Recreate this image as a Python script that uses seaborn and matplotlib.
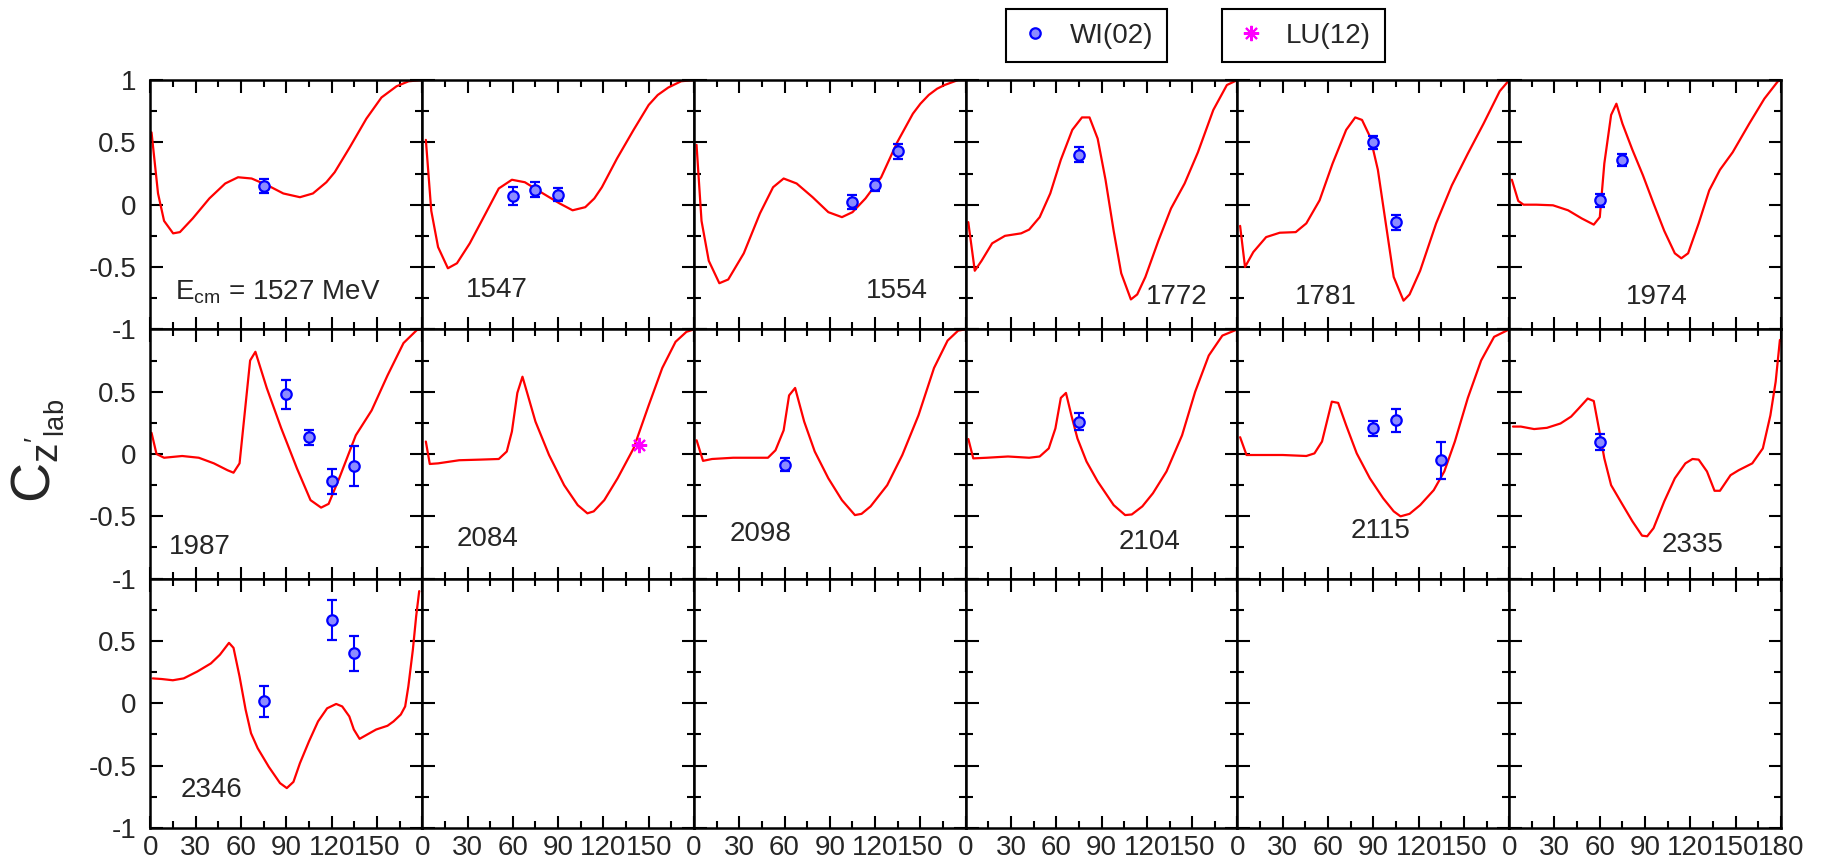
import matplotlib
matplotlib.use("Agg")
import matplotlib.pyplot as plt
from matplotlib.lines import Line2D
from matplotlib.ticker import FixedLocator, FixedFormatter
import seaborn as sns
import pandas as pd

# beam energies (MeV), one panel each
energies = ["1527", "1547", "1554", "1772", "1781", "1974",
            "1987", "2084", "2098", "2104", "2115", "2335", "2346"]

# model curves: (theta_cm [deg], C_z'lab)
curve_1527 = [(0.7, 0.58), (5, 0.09), (9, -0.13), (15, -0.23), (19.5, -0.22), (28, -0.11),
              (39, 0.05), (49.5, 0.17), (58, 0.22), (67, 0.21), (77.6, 0.155), (88, 0.09),
              (99, 0.06), (107.6, 0.09), (116.5, 0.18), (122, 0.26), (132, 0.46), (143, 0.69),
              (153, 0.86), (163, 0.95), (171, 0.99), (180, 1.0)]
curve_1547 = [(2.4, 0.52), (6, -0.05), (10.5, -0.34), (17, -0.51), (23, -0.47), (31.5, -0.31),
              (42, -0.07), (50.7, 0.13), (59.4, 0.20), (68, 0.18), (80, 0.09), (91, 0.01),
              (99.6, -0.045), (108, -0.02), (114, 0.05), (119, 0.14), (129, 0.37), (140, 0.6),
              (150, 0.8), (156, 0.88), (163, 0.94), (171.5, 0.99), (180, 1.0)]
curve_1554 = [(1.7, 0.48), (5, -0.13), (9.8, -0.45), (16.8, -0.63), (22.7, -0.6), (33, -0.39),
              (43.7, -0.07), (52.4, 0.14), (59.4, 0.21), (68, 0.17), (78.6, 0.06), (89, -0.06),
              (98, -0.10), (105, -0.06), (113.6, 0.05), (124, 0.22), (134.6, 0.50),
              (145, 0.73), (150, 0.81), (155.5, 0.88), (161, 0.93), (166, 0.96), (175, 1.0),
              (180, 1.0)]
curve_1772 = [(1.7, -0.14), (6, -0.53), (10.5, -0.45), (17.5, -0.31), (26, -0.25), (36.7, -0.23),
              (42, -0.2), (49, -0.1), (56, 0.09), (63, 0.36), (70.6, 0.6), (77, 0.7), (82, 0.7),
              (87.4, 0.53), (92.6, 0.2), (98, -0.21), (103, -0.55), (109.4, -0.76),
              (113.6, -0.72), (119, -0.58), (127.6, -0.29), (136, -0.03), (145, 0.17),
              (153.8, 0.42), (164, 0.76), (173, 0.96), (180, 1.0)]
curve_1781 = [(1.75, -0.17), (5, -0.5), (10.5, -0.38), (19, -0.26), (28, -0.225), (38.6, -0.22),
              (45.6, -0.15), (54.4, 0.035), (63, 0.33), (72, 0.6), (78, 0.70), (82.5, 0.68),
              (88, 0.54), (93, 0.28), (98, -0.13), (103.5, -0.58), (110, -0.77), (114, -0.72),
              (121, -0.53), (131.6, -0.15), (142, 0.155), (152.6, 0.41), (163, 0.65),
              (173.7, 0.91), (180, 1.0)]
curve_1974 = [(1.75, 0.2), (6, 0.03), (9.5, 0.0), (18, 0.0), (29, -0.005), (39, -0.045),
              (48, -0.11), (56, -0.16), (60, -0.1), (63, 0.33), (67.5, 0.72), (71, 0.81),
              (75, 0.65), (81.6, 0.44), (88.6, 0.235), (95.6, 0.01), (102.7, -0.21),
              (109.7, -0.39), (114, -0.43), (118.5, -0.39), (125.5, -0.15), (132.5, 0.115),
              (139.6, 0.28), (148, 0.42), (159, 0.65), (169, 0.85), (178, 0.99), (180, 1.0)]
curve_1987 = [(0.7, 0.17), (4, 0.0), (9, -0.03), (21, -0.016), (32, -0.03), (42, -0.075),
              (51, -0.13), (55, -0.15), (59, -0.075), (66, 0.75), (69.5, 0.82), (77, 0.53),
              (86.5, 0.21), (97, -0.115), (106, -0.37), (113, -0.43), (118, -0.40),
              (125, -0.195), (136, 0.15), (146.5, 0.35), (157, 0.63), (167.6, 0.89),
              (176.5, 0.995), (180, 1.0)]
curve_2084 = [(2.4, 0.1), (5, -0.08), (10.5, -0.075), (24.5, -0.05), (38.5, -0.045),
              (50.7, -0.04), (56, 0.02), (59.4, 0.18), (63, 0.49), (66.4, 0.62), (70, 0.47),
              (75, 0.26), (84, -0.008), (94, -0.25), (103, -0.41), (109.4, -0.476),
              (113.6, -0.46), (120.6, -0.37), (129.4, -0.195), (140, 0.045), (150, 0.39),
              (159, 0.69), (167.8, 0.9), (175, 0.98), (180, 1.0)]
curve_2098 = [(1.75, 0.11), (6, -0.055), (12, -0.04), (26, -0.03), (40, -0.03), (49, -0.03),
              (54, 0.03), (59.4, 0.19), (63, 0.47), (67, 0.53), (73, 0.26), (80, 0.02),
              (89, -0.195), (98, -0.37), (106.6, -0.49), (111, -0.48), (117, -0.42),
              (128, -0.25), (138, -0.008), (148.7, 0.31), (159, 0.69), (168, 0.91),
              (175, 0.99), (180, 1.0)]
curve_2104 = [(1.75, 0.12), (5, -0.035), (14, -0.03), (28, -0.02), (42, -0.03), (49, -0.02),
              (55, 0.045), (59.4, 0.205), (63, 0.45), (66.4, 0.49), (70, 0.31), (74, 0.125),
              (80, -0.06), (87.4, -0.22), (98, -0.41), (105.6, -0.49), (110, -0.485),
              (117, -0.42), (124, -0.315), (133, -0.14), (143.3, 0.15), (152, 0.5),
              (161, 0.79), (170, 0.95), (180, 1.0)]
curve_2115 = [(1.75, 0.135), (6, -0.008), (16, -0.008), (30, -0.008), (45.6, -0.016),
              (51, 0.005), (56, 0.1), (62.5, 0.42), (66.7, 0.41), (72, 0.23), (79, 0.005),
              (87.7, -0.195), (96.5, -0.355), (103.5, -0.46), (108, -0.50), (114, -0.48),
              (121, -0.41), (130, -0.29), (137, -0.14), (144, 0.1), (152.6, 0.45),
              (161.4, 0.75), (170, 0.94), (180, 1.0)]
curve_2335 = [(2.5, 0.22), (7.7, 0.22), (16.5, 0.2), (25, 0.21), (34, 0.245), (41, 0.3),
              (46, 0.365), (52, 0.445), (56, 0.425), (59.4, 0.205), (63, -0.035),
              (67.5, -0.25), (74.5, -0.395), (81.6, -0.54), (88, -0.655), (91.4, -0.66),
              (95.6, -0.595), (102.7, -0.38), (109.7, -0.195), (116.7, -0.075),
              (121.4, -0.04), (125.5, -0.045), (131, -0.14), (136, -0.295), (139.6, -0.295),
              (146.6, -0.17), (152, -0.13), (161, -0.075), (168, 0.045), (173, 0.31),
              (176.5, 0.58), (179.3, 0.915)]
curve_2346 = [(1.5, 0.2), (7.4, 0.195), (14.8, 0.185), (22, 0.2), (31, 0.255), (40, 0.32),
              (46, 0.39), (52, 0.485), (55, 0.445), (59, 0.215), (63, -0.05), (66.6, -0.24),
              (71, -0.36), (78.4, -0.51), (85.8, -0.64), (90.3, -0.68), (94.7, -0.63),
              (99, -0.48), (105, -0.305), (111, -0.145), (117, -0.04), (123, -0.005),
              (127, -0.025), (131.7, -0.105), (134.7, -0.21), (138.5, -0.285), (143.6, -0.25),
              (149.5, -0.21), (157, -0.18), (161, -0.145), (165.8, -0.09), (168.7, -0.025),
              (170.8, 0.135), (173.8, 0.43), (176, 0.7), (178, 0.9)]

# WI(02) data: (theta, value, error)
wi_1527 = [(75, 0.15, 0.055)]
wi_1547 = [(60, 0.07, 0.07), (75, 0.12, 0.06), (90, 0.08, 0.05)]
wi_1554 = [(105, 0.02, 0.055), (120, 0.16, 0.05), (135, 0.43, 0.06)]
wi_1772 = [(75, 0.40, 0.06)]
wi_1781 = [(90, 0.50, 0.05), (105, -0.14, 0.06)]
wi_1974 = [(60, 0.035, 0.05), (75, 0.36, 0.05)]
wi_1987 = [(90, 0.48, 0.115), (105, 0.135, 0.06), (120, -0.22, 0.1), (135, -0.095, 0.16)]
wi_2084 = []
wi_2098 = [(60, -0.085, 0.05)]
wi_2104 = [(75, 0.26, 0.065)]
wi_2115 = [(90, 0.205, 0.06), (105, 0.27, 0.095), (135, -0.05, 0.15)]
wi_2335 = [(60, 0.095, 0.065)]
wi_2346 = [(75, 0.015, 0.125), (120, 0.67, 0.16), (135, 0.40, 0.14)]

# LU(12) data
lu_2084 = [(143.5, 0.07)]

curves = [curve_1527, curve_1547, curve_1554, curve_1772, curve_1781, curve_1974,
          curve_1987, curve_2084, curve_2098, curve_2104, curve_2115, curve_2335, curve_2346]
wi_sets = [wi_1527, wi_1547, wi_1554, wi_1772, wi_1781, wi_1974,
           wi_1987, wi_2084, wi_2098, wi_2104, wi_2115, wi_2335, wi_2346]

# where the energy text sits in each panel (theta, value)
label_xy = [(16, -0.76), (28.7, -0.74), (114, -0.75), (119.5, -0.80), (38, -0.80), (77.4, -0.80),
            (12.4, -0.80), (22.7, -0.74), (23.8, -0.70), (101, -0.76), (74.7, -0.67),
            (101, -0.79), (19.8, -0.75)]

sns.set_style("ticks")
plt.rcParams['font.family'] = ['Liberation Sans', 'DejaVu Sans']
plt.rcParams['mathtext.fontset'] = 'custom'
plt.rcParams['mathtext.rm'] = 'Liberation Sans'
plt.rcParams['mathtext.it'] = 'Liberation Sans'
plt.rcParams['mathtext.sf'] = 'Liberation Sans'
plt.rcParams['mathtext.default'] = 'regular'
plt.rcParams['axes.unicode_minus'] = False

fig, axes = plt.subplots(3, 6, figsize=(18.24, 8.67), dpi=100)
fig.subplots_adjust(left=0.0825, right=0.9764, top=0.9077, bottom=0.045, wspace=0, hspace=0)

blue = '#0000ff'
for i, ax in enumerate(axes.flat):
    row, col = divmod(i, 6)
    for s in ax.spines.values():
        s.set_linewidth(1.8)
        s.set_color('black')
    ax.xaxis.set_major_locator(FixedLocator([0, 30, 60, 90, 120, 150, 180]))
    ax.xaxis.set_minor_locator(FixedLocator([15, 45, 75, 105, 135, 165]))
    ax.yaxis.set_major_locator(FixedLocator([-1, -0.5, 0, 0.5, 1]))
    ax.yaxis.set_minor_locator(FixedLocator([-0.75, -0.25, 0.25, 0.75]))
    ax.tick_params(which='both', direction='in', top=True, right=True, width=1.5, color='black')
    ax.tick_params(which='major', length=9)
    ax.tick_params(which='minor', length=5)
    ax.tick_params(axis='x', labelsize=20, pad=5)
    ax.tick_params(axis='y', labelsize=20, pad=10)

    if i < len(energies):
        cdf = pd.DataFrame(curves[i], columns=['theta', 'cz'])
        sns.lineplot(data=cdf, x='theta', y='cz', ax=ax, color='red', linewidth=1.6,
                     estimator=None, sort=False)

        if wi_sets[i]:
            wdf = pd.DataFrame(wi_sets[i], columns=['theta', 'cz', 'err'])
            ax.errorbar(wdf['theta'], wdf['cz'], yerr=wdf['err'], fmt='o', color=blue,
                        mfc='#8c8cff', mec=blue, mew=1.6, ms=7.5, elinewidth=1.5,
                        capsize=3.5, capthick=1.5, zorder=5)
        if energies[i] == "2084":
            ldf = pd.DataFrame(lu_2084, columns=['theta', 'cz'])
            ax.plot(ldf['theta'], ldf['cz'], ls='none', marker=(8, 2, 0), ms=11,
                    mew=1.5, color='#ff00ff', zorder=5)

        lx, ly = label_xy[i]
        txt = r"$E_{cm}$ = 1527 MeV" if i == 0 else energies[i]
        ax.text(lx, ly, txt, fontsize=20, va='baseline', ha='left')

    ax.set_xlim(0, 180)
    ax.set_ylim(-1, 1)
    ax.set_xlabel('')
    ax.set_ylabel('')
    if row == 2:
        xl = ['0', '30', '60', '90', '120', '150', '180' if col == 5 else '']
        ax.xaxis.set_major_formatter(FixedFormatter(xl))
    else:
        ax.xaxis.set_major_formatter(FixedFormatter([''] * 7))
    if col == 0:
        yl = ['-1', '-0.5', '0', '0.5', '1' if row == 0 else '']
        ax.yaxis.set_major_formatter(FixedFormatter(yl))
    else:
        ax.yaxis.set_major_formatter(FixedFormatter([''] * 5))

fig.text(0.021, 0.48, r"$C_{z'_{lab}}$", fontsize=40, rotation=90, va='center', ha='center')

# two separate legend boxes at the top
h_wi = Line2D([], [], ls='none', marker='o', ms=7.5, mfc='#8c8cff', mec=blue, mew=1.6)
h_lu = Line2D([], [], ls='none', marker=(8, 2, 0), ms=11, mew=1.5, color='#ff00ff')
for h, lab, cx in [(h_wi, 'WI(02)', 0.5957), (h_lu, 'LU(12)', 0.7146)]:
    leg = fig.legend([h], [lab], loc='center', bbox_to_anchor=(cx, 0.959), fontsize=20,
                     frameon=True, fancybox=False, edgecolor='black', framealpha=1,
                     borderpad=0.5, handlelength=1.1, handletextpad=0.7)
    leg.get_frame().set_linewidth(1.5)

plt.savefig('out.png', dpi=100)
